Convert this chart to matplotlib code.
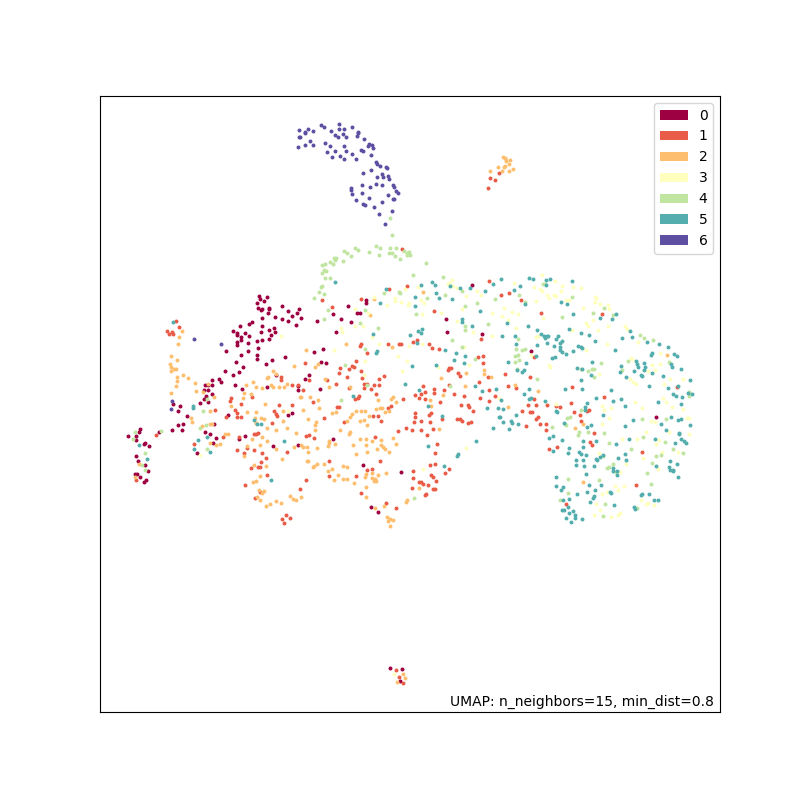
import matplotlib
matplotlib.use("Agg")
import matplotlib.pyplot as plt
from matplotlib.patches import Patch
import numpy as np

# embedding coordinates, one list per label
label_names = ["0", "1", "2", "3", "4", "5", "6"]

points_0 = [(259,296),(260,299),(267,297),(264,301),(257,303),(258,308),(261,310),(262,309),(269,308),(269,309),(268,313),
    (282,306),(288,311),(299,309),(297,313),(292,316),(275,317),(282,319),(288,321),(296,325),(262,318),(252,322),(249,324),
    (240,326),(233,331),(237,333),(237,335),(245,333),(249,336),(241,337),(241,340),(262,326),(261,332),(269,330),(274,328),
    (275,332),(271,335),(269,339),(262,340),(257,341),(248,343),(237,342),(237,345),(258,348),(248,351),(226,351),(241,355),
    (257,355),(257,359),(272,360),(266,364),(285,357),(236,362),(243,367),(225,371),(239,372),(233,375),(276,375),(212,380),
    (219,379),(221,382),(205,385),(208,385),(212,385),(235,385),(208,390),(204,390),(242,389),(267,387),(298,390),(298,386),
    (212,394),(206,396),(204,399),(200,403),(208,402),(173,404),(180,406),(178,411),(187,416),(228,415),(292,413),(288,415),
    (214,424),(178,425),(183,424),(172,430),(182,430),(140,429),(139,432),(159,432),(128,436),(136,436),(136,440),(205,432),
    (210,434),(216,438),(213,443),(239,439),(245,436),(273,446),(298,445),(144,444),(145,443),(149,446),(197,453),(136,456),
    (138,461),(145,465),(148,471),(135,474),(137,474),(140,477),(146,480),(144,482),
    (366,300),(366,303),(348,306),(357,313),(360,313),(333,314),(301,318),(341,319),(317,321),(351,322),(336,332),(446,319),
    (472,285),(447,332),(482,334),(314,352),(323,349),(321,362),(326,363),(309,375),(305,379),(320,389),(333,439),(363,465),
    (401,472),(371,507),(378,512),(531,351),(656,417),(390,668),(402,669),(400,681)]

points_1 = [(176,321),(179,327),(167,331),(172,332),(169,334),(173,334),(281,380),(281,377),(252,397),(231,398),(230,401),
    (241,404),(235,410),(237,413),(237,417),(241,417),(226,417),(279,405),(292,405),(274,411),(276,414),(277,416),(215,410),
    (272,423),(156,435),(223,437),(239,437),(254,434),(256,434),(258,433),(194,444),(237,450),(247,448),(244,453),(254,450),
    (262,453),(266,458),(261,462),(258,467),(260,467),(251,468),(287,452),(267,475),(245,485),(260,492),(255,498),(286,515),
    (282,519),(290,518),(284,523),(136,480),(292,385),(298,385),
    (407,286),(489,281),(389,289),(361,299),(322,300),(332,307),(434,311),(481,339),(417,340),(413,342),(388,344),(399,344),
    (401,344),(429,344),(432,348),(439,349),(361,344),(360,346),(367,353),(478,357),(483,356),(305,363),(356,361),(352,366),
    (354,367),(349,369),(340,368),(339,373),(361,371),(483,363),(449,368),(451,368),(448,370),(458,373),(460,376),(362,378),
    (384,376),(379,379),(347,377),(309,380),(327,380),(336,384),(367,384),(364,384),(374,385),(379,385),(449,385),(479,382),
    (488,377),(349,388),(303,390),(364,388),(371,389),(423,386),(434,389),(444,390),(425,392),(454,394),(376,394),(415,395),
    (421,394),(419,398),(425,399),(434,393),(359,396),(358,398),(355,399),(464,396),(480,398),(489,390),(495,396),(489,401),
    (403,399),(313,402),(440,402),(461,405),(468,405),(469,407),(473,411),(337,407),(339,407),(388,408),(391,406),(431,413),
    (429,415),(415,413),(415,417),(373,416),(378,416),(324,418),(457,419),(460,419),(462,421),(442,419),(381,421),(344,422),
    (414,422),(421,421),(430,422),(468,423),(471,422),(406,428),(398,431),(412,430),(421,430),(433,429),(375,437),(427,435),
    (306,436),(309,435),(314,438),(437,444),(435,453),(329,461),(380,461),(435,464),(430,465),(449,469),(372,469),(367,470),
    (445,473),(413,471),(431,475),(433,477),(413,478),(329,476),(356,476),(306,480),(436,481),(419,482),(421,482),(423,484),
    (428,485),(435,489),(433,489),(412,488),(300,489),(361,493),(426,494),(425,495),(386,503),(396,508),
    (501,295),(509,293),(521,300),(541,313),(602,314),(534,357),(505,374),(530,377),(508,386),(516,388),(572,387),(677,387),
    (604,397),(571,403),(534,399),(528,405),(536,405),(547,405),(556,406),(560,407),(522,411),(530,412),(532,412),(574,412),
    (589,410),(587,411),(580,415),(538,417),(536,419),(540,424),(546,424),(526,426),(546,430),(581,421),(594,433),(590,442),
    (592,445),(557,447),(549,449),(642,452),(636,485),(566,504),
    (402,249),(490,178),(495,180),(488,188),(499,173),(396,670),(399,677),(403,683)]

points_2 = [(182,331),(179,337),(178,344),(171,356),(177,360),(170,364),(171,367),(174,369),(176,369),(171,371),(183,375),
    (177,377),(188,378),(177,381),(176,386),(195,383),(208,384),(196,391),(203,392),(171,393),(214,397),(210,411),(191,418),
    (192,422),(202,426),(210,424),(212,424),(225,434),(228,434),(210,443),(216,445),(220,444),(139,464),(135,477),(246,385),
    (256,387),(253,382),(262,388),(268,377),(267,378),(273,371),(276,374),(294,366),(271,385),(273,387),(279,387),(284,387),
    (287,384),(244,393),(243,398),(251,394),(231,406),(265,404),(300,397),(247,412),(256,412),(283,411),(255,418),(261,418),
    (264,419),(267,428),(256,423),(276,430),(283,421),(287,428),(296,433),(262,437),(252,439),(267,441),(247,446),(260,445),
    (276,449),(294,447),(244,456),(282,459),(254,465),(266,466),(260,476),(253,482),(256,481),(259,490),(264,491),(262,493),
    (257,497),(260,500),(290,496),(293,499),(296,500),(276,501),(281,503),(270,504),(266,506),(303,410),
    (374,299),(423,292),(370,315),(346,344),(392,347),(306,350),(315,367),(318,364),(325,379),(329,387),(484,370),(484,374),
    (491,377),(466,373),(441,378),(465,386),(443,395),(350,387),(301,397),(310,397),(318,400),(319,408),(332,413),(336,412),
    (308,419),(352,414),(350,417),(347,421),(356,411),(361,411),(365,411),(376,409),(380,408),(382,408),(369,416),(360,421),
    (364,420),(367,425),(378,400),(393,397),(391,399),(396,402),(389,411),(385,412),(430,400),(431,406),(316,422),(315,425),
    (340,430),(350,432),(349,434),(439,429),(315,430),(393,438),(360,439),(366,439),(372,441),(381,440),(353,445),(366,445),
    (381,445),(383,447),(396,444),(385,449),(377,449),(389,452),(367,452),(356,454),(329,441),(329,443),(328,446),(335,444),
    (317,448),(307,447),(303,447),(301,445),(308,452),(307,461),(308,461),(317,464),(314,466),(324,464),(313,467),(328,471),
    (332,469),(343,466),(347,467),(338,475),(343,479),(347,479),(334,480),(354,483),(366,474),(365,477),(372,473),(378,475),
    (386,473),(372,478),(375,479),(376,481),(374,481),(419,488),(366,487),(366,497),(301,497),(384,506),(407,500),(406,502),
    (375,508),(387,517),(390,519),(393,520),(388,521),(390,526),
    (515,385),(538,391),(508,407),(583,424),(575,428),(667,355),(583,482),
    (503,157),(505,158),(506,160),(510,160),(506,161),(509,164),(505,166),(504,167),(498,167),(490,171),(502,171),(509,171),
    (513,169),(403,674),(405,678),(397,682)]

points_3 = [(281,336),(288,411),(200,455),
    (405,289),(418,287),(374,297),(395,298),(395,301),(401,302),(408,305),(387,305),(409,303),(421,300),(424,303),(449,283),
    (453,286),(457,288),(466,296),(481,295),(477,291),(462,309),(441,313),(422,314),(492,313),(457,321),(355,309),(368,313),
    (355,326),(363,326),(341,328),(342,332),(372,337),(379,344),(409,346),(422,344),(464,347),(473,332),(492,336),(334,350),
    (398,356),(365,361),(407,361),(438,367),(469,365),(402,371),(364,375),(499,398),(466,448),(423,469),(452,280),(448,284),
    (542,275),(555,281),(514,283),(562,286),(561,291),(573,287),(581,288),(534,287),(540,289),(542,291),(554,295),(556,296),
    (547,295),(549,298),(566,300),(569,300),(536,301),(595,297),(596,298),(595,302),(600,304),(608,305),(609,309),(504,308),
    (512,312),(518,314),(502,316),(508,320),(543,318),(583,308),(593,320),(586,323),(588,326),(598,330),(608,326),(625,326),
    (627,329),(516,328),(572,330),(536,337),(538,336),(607,344),(638,342),(586,350),(531,355),(660,353),(631,358),(632,359),
    (549,365),(550,367),(652,365),(660,364),(648,371),(655,370),(599,374),(630,379),(633,382),(636,384),(670,379),(683,379),
    (664,384),(663,398),(635,402),(642,408),(611,408),(602,406),(604,410),(609,418),(672,407),(683,409),(666,402),(556,404),
    (602,424),(651,421),(655,422),(646,432),(669,432),(687,418),(689,418),(689,434),(622,439),(637,439),(659,440),(656,444),
    (662,452),(678,452),(643,458),(599,453),(626,464),(658,469),(620,472),(624,486),(615,486),(618,490),(607,492),(602,494),
    (641,500),(648,503),(646,504),(654,505),(596,504),(600,510),(594,515),(611,517),(618,515),(620,513),(394,674)]

points_4 = [(207,399),(203,411),(206,425),(200,428),(161,431),(135,432),(133,439),(145,453),(142,465),(145,470),(207,449),
    (322,286),(321,287),(319,292),(324,294),(314,298),(384,293),(399,292),(400,293),(427,298),(445,295),(462,291),(477,303),
    (465,306),(495,299),(328,310),(365,310),(324,319),(360,323),(416,314),(488,324),(465,326),(465,330),(378,328),(452,340),
    (462,347),(365,349),(345,365),(475,359),(450,386),(341,400),(414,498),(367,385),
    (543,284),(545,284),(519,295),(525,302),(572,297),(604,308),(593,313),(613,315),(562,317),(516,349),(522,350),(525,349),
    (518,339),(640,335),(644,338),(653,340),(515,356),(518,355),(519,360),(515,362),(628,361),(669,362),(601,363),(517,369),
    (581,369),(588,371),(592,369),(594,369),(622,370),(594,377),(537,379),(689,396),(689,392),(581,410),(567,418),(570,417),
    (642,419),(666,419),(565,424),(566,425),(552,427),(579,432),(578,435),(588,432),(604,433),(643,437),(609,443),(665,442),
    (673,449),(631,449),(683,453),(603,456),(656,456),(661,455),(652,463),(613,464),(609,467),(607,468),(616,472),(647,473),
    (568,479),(599,480),(651,484),(568,493),(560,500),(605,504),(637,508),(603,516),
    (390,218),(392,235),(376,246),(380,248),(390,248),(396,248),(355,248),(358,250),(344,251),(347,253),(351,256),(369,252),
    (379,255),(389,253),(392,253),(395,256),(404,251),(407,253),(409,252),(407,255),(410,255),(400,259),(426,263),(334,258),
    (336,258),(335,260),(343,261),(330,262),(333,264),(325,264),(322,265),(324,270),(326,271),(322,273),(330,278),(325,278),
    (413,275),(443,277)]

points_5 = [(173,322),(193,406),(193,408),(254,420),(257,424),(261,424),(207,437),(198,440),(139,445),(194,449),(210,452),
    (147,459),(284,441),(271,480),
    (335,282),(386,289),(421,285),(432,282),(435,285),(450,286),(460,288),(470,288),(493,284),(485,291),(436,293),(415,297),
    (439,298),(452,299),(380,303),(415,306),(480,311),(462,319),(462,322),(472,326),(422,329),(418,331),(421,333),(410,335),
    (373,334),(417,343),(445,350),(456,353),(465,356),(377,351),(376,353),(454,360),(464,363),(412,366),(436,365),(405,384),
    (475,386),(482,391),(496,389),(419,390),(353,396),(428,406),(487,408),(498,408),(442,416),(499,417),(493,428),(476,441),
    (428,446),(458,454),(457,456),(444,466),
    (501,279),(529,278),(533,279),(550,279),(546,280),(572,281),(546,285),(520,286),(514,290),(525,304),(561,302),(567,304),
    (573,314),(507,323),(528,326),(600,318),(612,319),(616,314),(537,330),(541,334),(544,336),(547,336),(548,336),(545,338),
    (515,336),(502,336),(516,344),(569,329),(581,333),(589,335),(595,341),(558,336),(562,341),(560,343),(556,339),(547,343),
    (537,345),(554,346),(560,347),(560,350),(562,352),(566,354),(573,351),(578,346),(581,347),(582,348),(615,350),(536,356),
    (552,358),(555,357),(508,362),(526,363),(517,370),(524,370),(522,372),(592,362),(577,368),(582,369),(591,375),(581,380),
    (582,389),(565,389),(529,389),(524,394),(611,390),(630,331),(632,337),(622,338),(647,342),(659,344),(668,347),(674,354),
    (677,356),(652,353),(651,355),(644,363),(636,361),(637,364),(638,367),(645,367),(671,364),(672,367),(681,369),(621,366),
    (634,371),(620,372),(644,370),(652,373),(641,375),(642,376),(626,377),(663,376),(690,380),(649,386),(678,386),(668,388),
    (673,394),(688,393),(692,394),(682,397),(676,396),(658,402),(681,404),(621,399),(613,401),(625,406),(596,398),(587,403),
    (585,407),(585,410),(545,401),(556,411),(557,412),(531,398),(529,399),(501,400),(503,409),(516,415),(500,417),(503,422),
    (511,421),(512,423),(509,429),(518,424),(603,415),(633,420),(625,426),(591,425),(587,427),(564,423),(661,424),(671,417),
    (678,420),(681,419),(690,425),(666,430),(679,433),(679,434),(655,439),(681,439),(684,441),(686,443),(675,443),(549,438),
    (553,436),(562,440),(583,441),(596,441),(616,444),(629,439),(583,447),(569,448),(553,451),(568,453),(579,452),(581,454),
    (586,455),(583,460),(576,460),(576,465),(584,466),(596,459),(597,460),(600,457),(603,455),(594,466),(618,458),(625,454),
    (626,460),(613,468),(613,471),(617,471),(617,475),(656,466),(670,461),(677,464),(669,467),(670,470),(673,470),(673,471),
    (678,477),(586,474),(556,477),(556,486),(563,487),(561,490),(589,485),(601,485),(595,490),(587,492),(577,494),(610,492),
    (611,493),(642,494),(641,495),(649,494),(594,496),(593,498),(590,502),(563,500),(569,499),(654,500),(658,500),(568,507),
    (562,510),(564,510),(573,511),(569,513),(575,515),(566,518),(575,518),(582,519),(571,522),(614,505),(634,507),(635,509)]

points_6 = [(194,339),(221,344),(172,401),(171,409),
    (339,124),(321,125),(324,127),(352,127),(339,129),(344,129),(331,131),(308,129),(299,130),(305,132),(305,133),(313,131),
    (358,132),(358,133),(335,135),(343,134),(338,137),(346,137),(357,136),(299,137),(300,137),(364,139),(310,141),(305,145),
    (313,145),(325,143),(330,146),(298,147),(344,146),(369,144),(368,146),(372,145),(373,148),(327,152),(335,151),(346,151),
    (361,150),(363,151),(332,157),(340,156),(344,159),(352,154),(356,159),(371,155),(376,162),(377,164),(380,166),(386,167),
    (387,168),(371,170),(363,173),(382,174),(377,177),(383,177),(388,176),(389,179),(362,185),(370,187),(376,184),(382,185),
    (393,185),(394,187),(351,188),(351,190),(352,194),(362,193),(396,191),(398,193),(388,195),(369,198),(356,200),(393,199),
    (394,199),(382,202),(363,204),(365,205),(374,207),(392,211),(379,214),(385,224)]

all_points = [points_0, points_1, points_2, points_3, points_4, points_5, points_6]
subtitle = "UMAP: n_neighbors=15, min_dist=0.8"

fig, ax = plt.subplots(figsize=(8, 8), dpi=100)
colors = plt.get_cmap("Spectral")(np.linspace(0, 1, len(label_names)))

for pts, color in zip(all_points, colors):
    pts = np.array(pts)
    ax.scatter(pts[:, 0], pts[:, 1], s=3.4, color=color)

ax.set_xlim(100, 720)
ax.set_ylim(712, 96)
ax.set_xticks([])
ax.set_yticks([])

handles = [Patch(facecolor=c, label=n) for c, n in zip(colors, label_names)]
ax.legend(handles=handles, loc="upper right")
ax.text(0.99, 0.01, subtitle, transform=ax.transAxes, ha="right")

plt.savefig("out.png", dpi=100)
plt.close()
